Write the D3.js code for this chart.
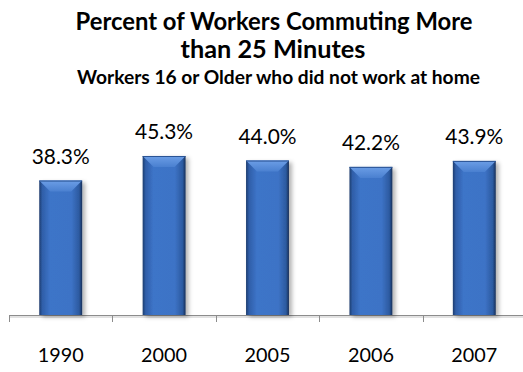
<!DOCTYPE html>
<html>
<head>
<meta charset="utf-8">
<script src="https://cdn.jsdelivr.net/npm/d3@7"></script>
<style>
  html, body { margin: 0; padding: 0; background: #fff; }
  svg { display: block; }
</style>
</head>
<body>
<div id="chart"></div>
<script>
const years = ["1990", "2000", "2005", "2006", "2007"];
const percents = [38.3, 45.3, 44.0, 42.2, 43.9];
const titleLines = ["Percent of Workers Commuting More", "than 25 Minutes"];
const subtitle = "Workers 16 or Older who did not work at home";

const width = 523,
    height = 372,
    axisY = 315,
    plotTop = 139.5;

const svg = d3.select("#chart")
    .append("svg")
    .attr("width", width)
    .attr("height", height);

const defs = svg.append("defs");

// horizontal shading of the bars
const grad = defs.append("linearGradient")
    .attr("id", "barGrad")
    .attr("x1", "0").attr("x2", "1").attr("y1", "0").attr("y2", "0");
[[0, "#1d3c6e"], [0.07, "#2f5ea8"], [0.25, "#3d74c8"], [0.75, "#3d73c6"], [0.93, "#2c5aa0"], [1, "#172f57"]]
    .forEach(s => grad.append("stop").attr("offset", s[0]).attr("stop-color", s[1]));

const bevel = defs.append("linearGradient")
    .attr("id", "bevelGrad")
    .attr("x1", "0").attr("x2", "0").attr("y1", "0").attr("y2", "1");
bevel.append("stop").attr("offset", 0).attr("stop-color", "#6c9ee6");
bevel.append("stop").attr("offset", 1).attr("stop-color", "#4a80d0");

const shadow = defs.append("filter")
    .attr("id", "shadow")
    .attr("x", "-30%").attr("y", "-10%").attr("width", "160%").attr("height", "130%");
shadow.append("feDropShadow")
    .attr("dx", 3).attr("dy", 2)
    .attr("stdDeviation", 2)
    .attr("flood-color", "#000")
    .attr("flood-opacity", 0.3);

// Scales
const xScale = d3.scaleBand()
    .domain(years)
    .range([9, 526])
    .paddingInner(0)
    .paddingOuter(0);

const yScale = d3.scaleLinear()
    .domain([0, 50])
    .range([axisY, plotTop]);

const barW = xScale.bandwidth() * 0.415;

const font = "Lato, 'Open Sans', sans-serif";

// scale the font size so the text gets the wanted width
function fit(sel, target) {
    const w = sel.node().getComputedTextLength();
    const fs = parseFloat(sel.attr("font-size"));
    const nfs = +(fs * target / w).toFixed(2);
    sel.attr("font-size", nfs);
    return nfs;
}

// Titles
const t1 = svg.append("text")
    .attr("x", 274).attr("y", 30)
    .attr("text-anchor", "middle")
    .attr("font-family", font)
    .attr("font-weight", "bold")
    .attr("font-size", 20)
    .attr("fill", "#000")
    .text(titleLines[0]);
fit(t1, 397);

const t2 = svg.append("text")
    .attr("x", 273).attr("y", 58)
    .attr("text-anchor", "middle")
    .attr("font-family", font)
    .attr("font-weight", "bold")
    .attr("font-size", 20)
    .attr("fill", "#000")
    .text(titleLines[1]);
fit(t2, 185);

const st = svg.append("text")
    .attr("x", 278.5).attr("y", 84)
    .attr("text-anchor", "middle")
    .attr("font-family", font)
    .attr("font-weight", "bold")
    .attr("font-size", 14)
    .attr("fill", "#000")
    .text(subtitle);
fit(st, 403);

// Axis
const xAxis = d3.axisBottom(xScale).tickSize(0).tickFormat("");
const axisG = svg.append("g")
    .attr("transform", "translate(0," + axisY + ")")
    .call(xAxis);
axisG.select(".domain").remove();

// soft shadow under the axis line
axisG.append("line")
    .attr("x1", 9).attr("x2", width)
    .attr("y1", 2).attr("y2", 2)
    .attr("stroke", "#e2e2e2").attr("stroke-width", 2);
axisG.append("line")
    .attr("x1", 9).attr("x2", width)
    .attr("y1", 0.5).attr("y2", 0.5)
    .attr("stroke", "#8c8c8c").attr("stroke-width", 1);

const tickPos = years.map(d => xScale(d)).concat([xScale.range()[1]]);
axisG.selectAll(".tk")
    .data(tickPos)
    .enter()
    .append("line")
    .attr("class", "tk")
    .attr("x1", d => Math.round(d) + 0.5).attr("x2", d => Math.round(d) + 0.5)
    .attr("y1", 0).attr("y2", 7)
    .attr("stroke", "#8c8c8c");

// Bars
const bars = svg.selectAll(".bar")
    .data(percents)
    .enter()
    .append("g")
    .attr("class", "bar");

bars.append("rect")
    .attr("x", (d, i) => xScale(years[i]) + (xScale.bandwidth() - barW) / 2)
    .attr("y", d => yScale(d))
    .attr("width", barW)
    .attr("height", d => axisY - yScale(d))
    .attr("fill", "url(#barGrad)")
    .attr("filter", "url(#shadow)");

const bv = 11;
bars.append("polygon")
    .attr("points", (d, i) => {
        const x0 = xScale(years[i]) + (xScale.bandwidth() - barW) / 2,
            x1 = x0 + barW,
            y0 = yScale(d);
        return [[x0, y0], [x1, y0], [x1 - bv, y0 + bv], [x0 + bv, y0 + bv]].join(" ");
    })
    .attr("fill", "url(#bevelGrad)");

bars.append("line")
    .attr("x1", (d, i) => xScale(years[i]) + (xScale.bandwidth() - barW) / 2)
    .attr("x2", (d, i) => xScale(years[i]) + (xScale.bandwidth() + barW) / 2)
    .attr("y1", d => yScale(d) + 0.5)
    .attr("y2", d => yScale(d) + 0.5)
    .attr("stroke", "#2a5394");

// Value labels
const labels = bars.append("text")
    .attr("x", (d, i) => xScale(years[i]) + xScale.bandwidth() / 2)
    .attr("y", d => yScale(d) - 17)
    .attr("text-anchor", "middle")
    .attr("font-family", font)
    .attr("font-size", 20)
    .attr("fill", "#000")
    .text(d => d.toFixed(1) + "%");
labels.attr("font-size", fit(d3.select(labels.nodes()[3]), 58));

// Category labels
const cats = svg.selectAll(".cat")
    .data(years)
    .enter()
    .append("text")
    .attr("class", "cat")
    .attr("x", d => xScale(d) + xScale.bandwidth() / 2)
    .attr("y", 362)
    .attr("text-anchor", "middle")
    .attr("font-family", font)
    .attr("font-size", 20)
    .attr("fill", "#000")
    .text(d => d);
cats.attr("font-size", fit(d3.select(cats.nodes()[0]), 46));
</script>
</body>
</html>
